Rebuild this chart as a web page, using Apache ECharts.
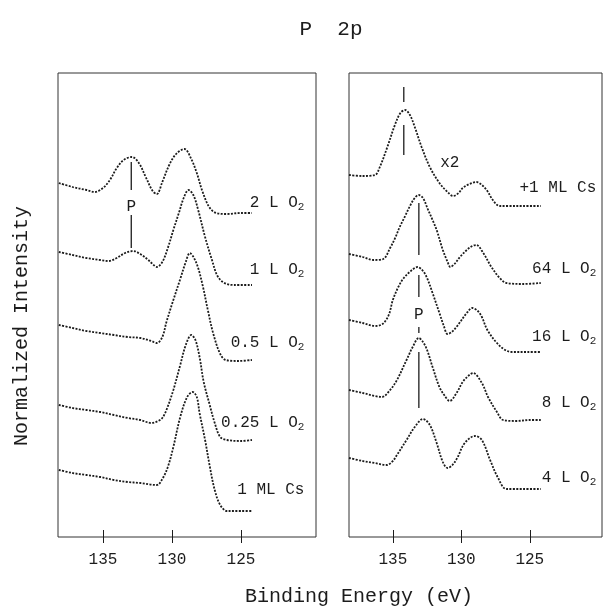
<!DOCTYPE html>
<html><head><meta charset="utf-8">
<script src="https://cdn.jsdelivr.net/npm/echarts@6/dist/echarts.min.js"></script>
<style>html,body{margin:0;padding:0;background:#fff}#c{width:605px;height:613px}</style>
</head><body><div id="c"></div>
<script>
// ---------- data: binding energy (eV) and normalized intensity (arb. units) ----------
// x-axis tick values / labels
const beTicks = [125, 130, 135];

// Left panel spectra
const be_L_2L   = [138.2,137.2,136.2,135.6,135.0,134.5,134.0,133.5,132.9,132.4,131.9,131.4,131.1,130.7,130.2,129.7,129.1,128.6,128.2,127.8,127.3,126.8,126.0,125.0,124.2];
const int_L_2L  = [354,350,347,345,349,357,369,377,380,374,360,346,343,355,372,383,388,378,364,346,330,324,323,324,324];
const be_L_1L   = [138.2,137.2,136.2,135.2,134.6,134.0,133.4,132.8,132.3,131.8,131.4,131.1,130.7,130.3,129.9,129.5,129.15,128.8,128.45,128.1,127.6,127.1,126.7,126.2,125.5,124.2];
const int_L_1L  = [285,282,279,277,276,279,284,286,283,278,273,270,275,289,307,324,339,347,342,327,300,277,261,254,252,252];
const be_L_05L  = [138.2,137.2,136.2,135.2,134.2,133.2,132.3,131.5,131.1,130.7,130.4,129.9,129.4,129.0,128.7,128.4,128.1,127.75,127.4,127.0,126.5,126.1,125.2,124.2];
const int_L_05L = [212,209,206,204,202,200,199,196,194,200,215,237,258,275,284,279,269,250,227,203,183,177,176,177];
const be_L_025L = [138.2,137.2,136.2,135.2,134.2,133.2,132.3,131.5,131.0,130.7,130.4,129.9,129.4,129.0,128.6,128.3,128.0,127.7,127.3,126.9,126.5,126.0,125.0,124.2];
const int_L_025L= [132,129,127,125,122,119,117,114,116,119,127,147,172,192,202,197,180,155,134,114,100,97,96,97];
const be_L_Cs   = [138.2,137.2,136.2,135.2,134.2,133.2,132.3,131.1,130.7,130.3,129.9,129.4,128.9,128.5,128.2,128.0,127.6,127.25,126.9,126.5,126.0,125.0,124.2];
const int_L_Cs  = [67,64,62,60,57,55,54,52,58,70,90,120,140,145,140,124,97,70,47,32,26,26,26];

// Right panel spectra
const be_R_Cs   = [138.2,137.2,136.3,135.95,135.4,134.85,134.45,134.1,133.75,133.4,132.9,132.3,131.6,131.0,130.6,130.2,129.9,129.4,128.9,128.5,128.1,127.7,127.2,126.5,125.5,124.2];
const int_R_Cs  = [362,361,362,370,390,412,424,427,422,410,390,370,354,345,341,344,349,353,355,352,346,337,331,331,331,331];
const be_R_64L  = [138.2,137.2,136.4,135.7,135.2,134.8,134.5,134.1,133.75,133.4,133.1,132.8,132.45,132.1,131.8,131.35,131.0,130.8,130.5,130.1,129.6,129.2,128.9,128.4,127.8,127.2,126.7,125.5,124.2];
const int_R_64L = [283,280,277,278,289,300,310,321,331,339,342,339,328,317,307,287,275,270,273,280,287,291,292,284,270,259,254,253,254];
const be_R_16L  = [138.2,137.2,136.3,135.75,135.3,135.0,134.6,134.2,133.6,133.2,132.8,132.5,132.1,131.6,131.3,131.0,130.7,130.3,129.6,129.2,128.8,128.5,128.1,127.4,126.8,126.3,125.2,124.2];
const int_R_16L = [217,214,211,213,222,237,250,259,267,270,266,259,244,224,212,203,205,211,224,229,226,220,207,194,187,185,185,185];
const be_R_8L   = [138.2,137.2,136.3,135.8,135.2,134.7,134.0,133.55,133.1,132.8,132.5,132.1,131.6,131.2,130.85,130.35,129.9,129.5,129.15,128.5,128.05,127.4,126.95,126.0,125.0,124.2];
const int_R_8L  = [147,144,141,140,147,157,177,190,199,195,187,170,150,141,136,144,155,161,164,154,140,125,117,116,117,117];
const be_R_4L   = [138.2,137.2,136.3,135.45,135.0,134.7,134.0,133.4,132.8,132.3,131.8,131.35,131.0,130.65,130.3,129.75,129.0,128.5,127.9,127.35,126.7,125.5,124.2];
const int_R_4L  = [79,76,74,72,76,82,97,110,118,112,94,75,69,72,79,94,101,97,77,60,48,48,48];

// Trace labels
const leftNames  = ['2 L O2','1 L O2','0.5 L O2','0.25 L O2','1 ML Cs'];
const rightNames = ['+1 ML Cs','64 L O2','16 L O2','8 L O2','4 L O2'];

// Peak marker annotations (energy of marker, intensity spans)
const markP_left_BE  = 132.95;
const markP_left_seg = [[375,347],[322,289]];
const markP_right_BE = 133.1;
const markP_right_seg= [[334,282],[262,240],[210,204],[185,129]];
const markCs_BE      = 134.2;
const markCs_seg     = [[450,435],[412,382]];

// ---------- layout ----------
const FONT = 'Liberation Mono';
const INK = '#1c1c1c';
const leftLabelPos  = {x:120.36, y:[334,267,194,114,47]};
const rightLabelPos = {x:120.11, y:[349,268,200,134,59]};

function pairs(be, v){ return be.map((b,i)=>[b, v[i]]); }
function richName(n){
  if (/O2$/.test(n)) return '{t|' + n.slice(0,-1) + '}{s|2}';
  return '{t|' + n + '}';
}

const chart = echarts.init(document.getElementById('c'));

const grids = [
  {left:58, top:73, width:258, height:464, show:true, borderColor:'#333', borderWidth:1, backgroundColor:'transparent'},
  {left:349, top:73, width:253, height:464, show:true, borderColor:'#333', borderWidth:1, backgroundColor:'transparent'}
];
const ranges = [[119.56,138.26],[119.73,138.2]];

const xAxes = [];
[0,1].forEach(g=>{
  xAxes.push({
    gridIndex:g, type:'value', position:'bottom', inverse:true, min:ranges[g][0], max:ranges[g][1],
    axisLine:{show:false}, splitLine:{show:false},
    axisTick:{show:true, inside:false, length:6, customValues:beTicks, lineStyle:{color:INK, width:1}},
    axisLabel:{show:true, customValues:beTicks, margin:15, fontFamily:FONT, fontSize:16, color:INK}
  });
  xAxes.push({
    gridIndex:g, type:'value', position:'bottom', offset:0, inverse:true, min:ranges[g][0], max:ranges[g][1],
    axisLine:{show:false}, splitLine:{show:false},
    axisTick:{show:true, inside:true, length:7, customValues:beTicks, lineStyle:{color:INK, width:1}},
    axisLabel:{show:false}
  });
});
const yAxes = [0,1].map(g=>({gridIndex:g, type:'value', min:0, max:464, show:false, splitLine:{show:false}}));

const series = [];
const traceStyle = {color:INK, width:1.8, type:[2,1.4]};
function addTrace(be, v, g){
  series.push({type:'line', xAxisIndex:g*2, yAxisIndex:g, data:pairs(be,v), smooth:0.35,
    showSymbol:false, symbol:'none', lineStyle:traceStyle, silent:true, animation:false});
}
addTrace(be_L_2L, int_L_2L, 0);
addTrace(be_L_1L, int_L_1L, 0);
addTrace(be_L_05L, int_L_05L, 0);
addTrace(be_L_025L, int_L_025L, 0);
addTrace(be_L_Cs, int_L_Cs, 0);
addTrace(be_R_Cs, int_R_Cs, 1);
addTrace(be_R_64L, int_R_64L, 1);
addTrace(be_R_16L, int_R_16L, 1);
addTrace(be_R_8L, int_R_8L, 1);
addTrace(be_R_4L, int_R_4L, 1);

function addSeg(be, seg, g){
  seg.forEach(s=>{
    series.push({type:'line', xAxisIndex:g*2, yAxisIndex:g, data:[[be,s[0]],[be,s[1]]],
      showSymbol:false, symbol:'none', lineStyle:{color:INK, width:1.3}, silent:true, animation:false});
  });
}
addSeg(markP_left_BE, markP_left_seg, 0);
addSeg(markP_right_BE, markP_right_seg, 1);
addSeg(markCs_BE, markCs_seg, 1);

const rich = {t:{fontFamily:FONT, fontSize:16, color:INK}, s:{fontFamily:FONT, fontSize:11, color:INK, padding:[8,0,0,0]}};
function labelSeries(names, pos, g){
  series.push({type:'scatter', xAxisIndex:g*2, yAxisIndex:g, symbolSize:1, itemStyle:{color:'rgba(0,0,0,0)', opacity:1}, silent:true, animation:false,
    data:names.map((n,i)=>({value:[pos.x,pos.y[i]], label:{show:true, formatter:richName(n)}})),
    label:{show:true, position:'left', distance:0, color:INK, opacity:1, rich:rich}
  });
}
labelSeries(leftNames, leftLabelPos, 0);
labelSeries(rightNames, rightLabelPos, 1);

// free text annotations ("P" and "x2")
function textSeries(items, g){
  series.push({type:'scatter', xAxisIndex:g*2, yAxisIndex:g, symbolSize:1, itemStyle:{color:'rgba(0,0,0,0)', opacity:1}, silent:true, animation:false,
    data:items.map(it=>({value:[it[0],it[1]], label:{show:true, formatter:it[2]}})),
    label:{show:true, position:'inside', fontFamily:FONT, fontSize:16, color:INK, opacity:1}
  });
}
textSeries([[markP_left_BE, 330, 'P']], 0);
textSeries([[markP_right_BE, 222, 'P'], [130.84, 374, 'x2']], 1);

chart.setOption({
  backgroundColor:'#fff',
  animation:false,
  grid:grids, xAxis:xAxes, yAxis:yAxes, series:series,
  graphic:[
    {type:'text', x:331, y:29, style:{text:'P  2p', font:'21px "Liberation Mono"', fill:INK, textAlign:'center', textVerticalAlign:'middle'}},
    {type:'text', x:22, y:326, rotation:Math.PI/2, style:{text:'Normalized Intensity', font:'20px "Liberation Mono"', fill:INK, textAlign:'center', textVerticalAlign:'middle'}},
    {type:'text', x:359, y:597, style:{text:'Binding Energy (eV)', font:'20px "Liberation Mono"', fill:INK, textAlign:'center', textVerticalAlign:'middle'}}
  ]
});
</script></body></html>
